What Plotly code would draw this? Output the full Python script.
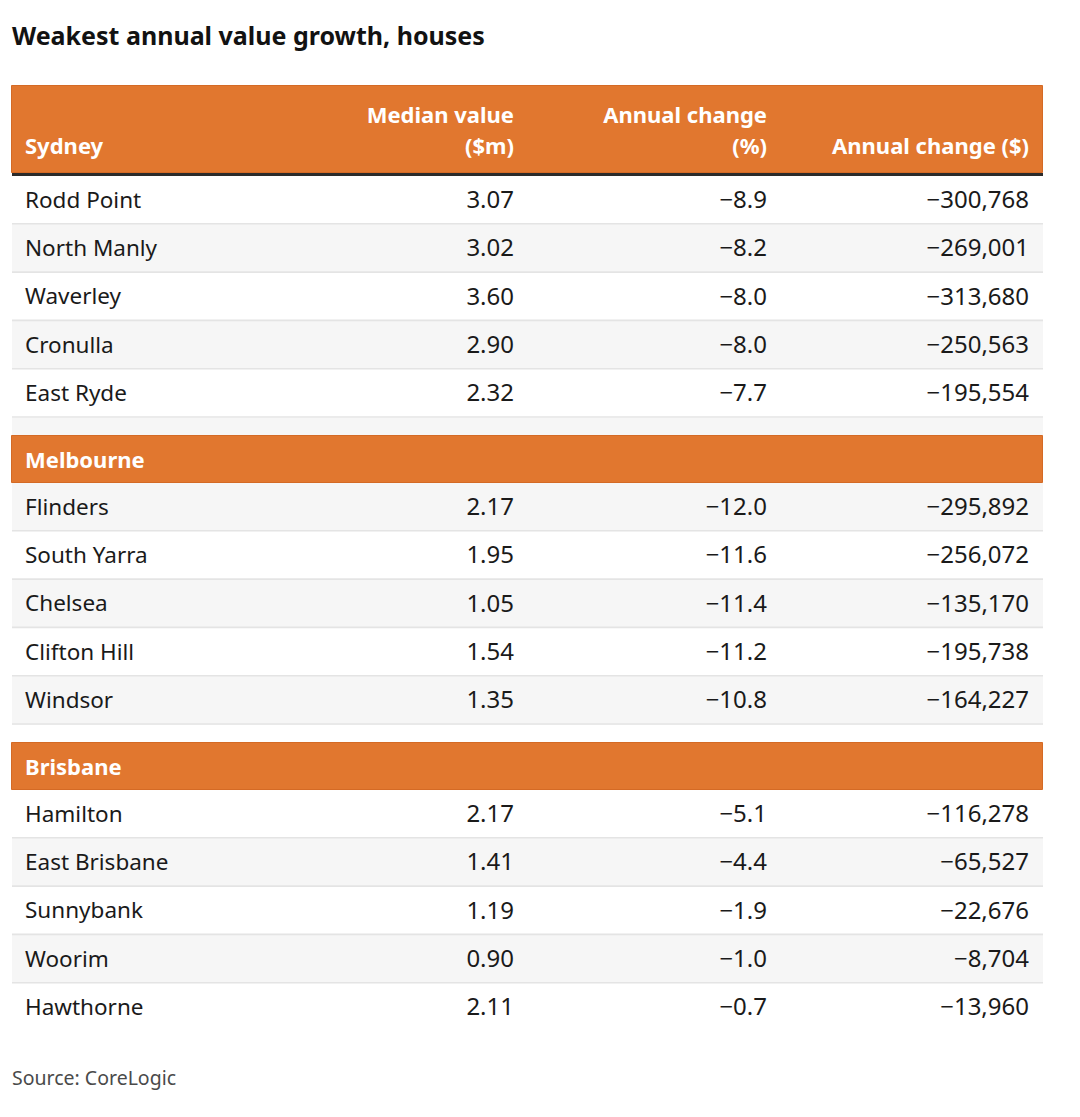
import plotly.graph_objects as go

# ---------------- data ----------------
title = "Weakest annual value growth, houses"
source = "Source: CoreLogic"
cities = ["Sydney", "Melbourne", "Brisbane"]
header_line1 = ["", "Median value", "Annual change", ""]
header_line2 = ["", "($m)", "(%)", "Annual change ($)"]

suburbs_sydney = ["Rodd Point", "North Manly", "Waverley", "Cronulla", "East Ryde"]
suburbs_melbourne = ["Flinders", "South Yarra", "Chelsea", "Clifton Hill", "Windsor"]
suburbs_brisbane = ["Hamilton", "East Brisbane", "Sunnybank", "Woorim", "Hawthorne"]

median_sydney = [3.07, 3.02, 3.60, 2.90, 2.32]
median_melbourne = [2.17, 1.95, 1.05, 1.54, 1.35]
median_brisbane = [2.17, 1.41, 1.19, 0.90, 2.11]

pct_sydney = [-8.9, -8.2, -8.0, -8.0, -7.7]
pct_melbourne = [-12.0, -11.6, -11.4, -11.2, -10.8]
pct_brisbane = [-5.1, -4.4, -1.9, -1.0, -0.7]

dollars_sydney = [-300768, -269001, -313680, -250563, -195554]
dollars_melbourne = [-295892, -256072, -135170, -195738, -164227]
dollars_brisbane = [-116278, -65527, -22676, -8704, -13960]

suburbs = [suburbs_sydney, suburbs_melbourne, suburbs_brisbane]
medians = [median_sydney, median_melbourne, median_brisbane]
pcts = [pct_sydney, pct_melbourne, pct_brisbane]
dollars = [dollars_sydney, dollars_melbourne, dollars_brisbane]

# ---------------- styling / layout ----------------
W, H = 1080, 1117
X0, X1 = 12, 1043
TEXT_LEFT = 25
COL_RIGHT = [None, 514, 767, 1029]
HEAD_TOP, HEAD_BOTTOM = 86, 173
RULE_H = 3
ROW_H = 48.3
GAP_H = 18
SEC_H = 47.5
ORANGE = "#e1772f"
ORANGE_EDGE = "#d46a25"
STRIPE = "#f6f6f6"
SEP = "#e4e4e4"
INK = "#1a1a1a"
FONT = "Noto Sans"
NAME_SIZE = 22.5
NUM_SIZE = 24
HEAD_SIZE = 22
TEXT_NUDGE = 2


def fmt_num(v, decimals):
    s = f"{abs(v):,.{decimals}f}"
    return ("\u2212" + s) if v < 0 else s


# build body entries
entries = []  # (kind, top, height, payload)
y = HEAD_BOTTOM + RULE_H
for ci, city in enumerate(cities):
    if ci > 0:
        entries.append(("gap", y, GAP_H, None))
        y += GAP_H
        entries.append(("section", y, SEC_H, city))
        y += SEC_H
    for ri in range(len(suburbs[ci])):
        entries.append(("row", y, ROW_H, (ci, ri)))
        y += ROW_H

last_row_idx = max(i for i, e in enumerate(entries) if e[0] == "row")

bg_y, bg_h, bg_c = [], [], []
or_y, or_h = [], []
sep_x, sep_y = [], []
left_x, left_y, left_t = [], [], []
sec_x, sec_y, sec_t = [], [], []
num_cols = {1: ([], [], []), 2: ([], [], []), 3: ([], [], [])}

for i, (kind, top, h, payload) in enumerate(entries):
    c = top + h / 2
    if kind == "section":
        or_y.append(c)
        or_h.append(h)
        sec_x.append(TEXT_LEFT)
        sec_y.append(c + 1 + TEXT_NUDGE)
        sec_t.append(payload)
        continue
    bg_y.append(c)
    bg_h.append(h)
    bg_c.append("#ffffff" if i % 2 == 0 else STRIPE)
    if kind == "row":
        ci, ri = payload
        ty = c + TEXT_NUDGE
        left_x.append(TEXT_LEFT)
        left_y.append(ty)
        left_t.append(suburbs[ci][ri])
        vals = [fmt_num(medians[ci][ri], 2), fmt_num(pcts[ci][ri], 1), fmt_num(dollars[ci][ri], 0)]
        for k, v in enumerate(vals, start=1):
            num_cols[k][0].append(COL_RIGHT[k])
            num_cols[k][1].append(ty)
            num_cols[k][2].append(v)
        if i != last_row_idx:
            sep_x += [X0, X1, None]
            sep_y += [top + h - 0.5, top + h - 0.5, None]

fig = go.Figure()

# body backgrounds
fig.add_trace(go.Bar(orientation="h", y=bg_y, x=[X1 - X0] * len(bg_y), base=[X0] * len(bg_y),
                     width=bg_h, marker=dict(color=bg_c, line=dict(width=0)), hoverinfo="skip"))
# top header background
fig.add_trace(go.Bar(orientation="h", y=[(HEAD_TOP + HEAD_BOTTOM) / 2], x=[X1 - X0], base=[X0],
                     width=[HEAD_BOTTOM - HEAD_TOP],
                     marker=dict(color=ORANGE, line=dict(width=1, color=ORANGE_EDGE)), hoverinfo="skip"))
# section header backgrounds
fig.add_trace(go.Bar(orientation="h", y=or_y, x=[X1 - X0] * len(or_y), base=[X0] * len(or_y),
                     width=or_h, marker=dict(color=ORANGE, line=dict(width=1, color=ORANGE_EDGE)),
                     hoverinfo="skip"))

# separators
fig.add_trace(go.Scatter(x=sep_x, y=sep_y, mode="lines", line=dict(color=SEP, width=1.6),
                         hoverinfo="skip"))
# dark rule under header
rule_y = HEAD_BOTTOM + RULE_H / 2
fig.add_trace(go.Scatter(x=[X0, X1], y=[rule_y, rule_y], mode="lines",
                         line=dict(color="#2b2b2b", width=RULE_H), hoverinfo="skip"))

# header texts
line2_y = 148
line1_y = 117
head_font = dict(family=FONT, size=HEAD_SIZE, color="white", weight="bold")
fig.add_trace(go.Scatter(x=[TEXT_LEFT], y=[line2_y], mode="text", text=[cities[0]],
                         textposition="middle right", textfont=head_font, hoverinfo="skip"))
hx1 = [COL_RIGHT[k] for k in range(1, 4) if header_line1[k]]
ht1 = [header_line1[k] for k in range(1, 4) if header_line1[k]]
fig.add_trace(go.Scatter(x=hx1, y=[line1_y] * len(hx1), mode="text", text=ht1,
                         textposition="middle left", textfont=head_font, hoverinfo="skip"))
fig.add_trace(go.Scatter(x=COL_RIGHT[1:], y=[line2_y] * 3, mode="text", text=header_line2[1:],
                         textposition="middle left", textfont=head_font, hoverinfo="skip"))

# section header texts
fig.add_trace(go.Scatter(x=sec_x, y=sec_y, mode="text", text=sec_t, textposition="middle right",
                         textfont=head_font, hoverinfo="skip"))

# body texts
fig.add_trace(go.Scatter(x=left_x, y=left_y, mode="text", text=left_t, textposition="middle right",
                         textfont=dict(family=FONT, size=NAME_SIZE, color=INK), hoverinfo="skip"))
for k in (1, 2, 3):
    xs, ys, ts = num_cols[k]
    fig.add_trace(go.Scatter(x=xs, y=ys, mode="text", text=ts, textposition="middle left",
                             textfont=dict(family=FONT, size=NUM_SIZE, color=INK), hoverinfo="skip"))

# title and source
fig.add_trace(go.Scatter(x=[X0], y=[39], mode="text", text=[title], textposition="middle right",
                         textfont=dict(family=FONT, size=25, color="#121212", weight="bold"),
                         hoverinfo="skip"))
fig.add_trace(go.Scatter(x=[X0], y=[1080], mode="text", text=[source], textposition="middle right",
                         textfont=dict(family=FONT, size=19.5, color="#4a4a4a"), hoverinfo="skip"))

fig.update_layout(
    width=W, height=H, margin=dict(l=0, r=0, t=0, b=0),
    paper_bgcolor="white", plot_bgcolor="white",
    showlegend=False, barmode="overlay", bargap=0, hovermode=False,
    xaxis=dict(range=[0, W], visible=False, fixedrange=True),
    yaxis=dict(range=[H, 0], visible=False, fixedrange=True),
)

fig.write_html("out.html", config={"displayModeBar": False},
               post_script="document.body.style.margin='0';document.body.style.padding='0';")
